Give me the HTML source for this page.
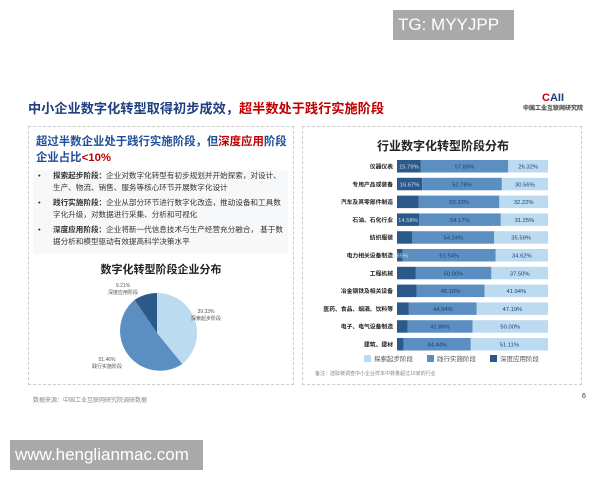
<!DOCTYPE html>
<html><head><meta charset="utf-8"><style>
*{margin:0;padding:0;box-sizing:border-box}
body{width:600px;height:480px;background:#fff;position:relative;overflow:hidden;font-family:"Liberation Sans","Noto Sans CJK SC",sans-serif}
.abs{position:absolute}
</style></head><body>
<div class="abs" style="left:393px;top:10px;width:121px;height:30px;background:#a9a9a9;color:#fff;font-size:17px;line-height:30px;padding-left:5px">TG: MYYJPP</div>
<div class="abs" style="left:28px;top:98px;font-size:13.2px;font-weight:bold;color:#1f3f80;white-space:nowrap">中小企业数字化转型取得初步成效，<span style="color:#c00000">超半数处于践行实施阶段</span></div>
<div class="abs" style="left:518px;top:94px;width:70px;text-align:center;font-size:9px;font-weight:bold;color:#1f3f80;line-height:9px"><span style="font-size:11px"><span style="color:#c00000">C</span>AII</span><br><span style="font-size:6px;color:#333">中国工业互联网研究院</span></div>
<div class="abs" style="left:28px;top:126px;width:266px;height:259px;border:1px dashed #ccc"></div>
<div class="abs" style="left:302px;top:126px;width:280px;height:259px;border:1px dashed #ccc"></div>
<div class="abs" style="left:36px;top:134px;width:258px;font-size:11.4px;font-weight:bold;color:#1f4f9a;line-height:16px">超过半数企业处于践行实施阶段，但<span style="color:#c00000">深度应用</span>阶段<br>企业占比<span style="color:#c00000">&lt;10%</span></div>
<div class="abs" style="left:33px;top:170px;width:255px;height:84px;background:#f7f8fa;font-size:7.6px;color:#333;line-height:12px">
<div style="padding-left:20px;position:relative"><span style="position:absolute;left:5px">•</span><b>探索起步阶段：</b>企业对数字化转型有初步规划并开始探索，对设计、生产、物流、销售、服务等核心环节开展数字化设计</div>
<div style="padding-left:20px;position:relative;margin-top:3px"><span style="position:absolute;left:5px">•</span><b>践行实施阶段：</b>企业从部分环节进行数字化改造，推动设备和工具数字化升级，对数据进行采集、分析和可视化</div>
<div style="padding-left:20px;position:relative;margin-top:3px"><span style="position:absolute;left:5px">•</span><b>深度应用阶段：</b>企业将新一代信息技术与生产经营充分融合， 基于数据分析和模型驱动有效提高科学决策水平</div>
</div>
<div class="abs" style="left:28px;top:261px;width:266px;text-align:center;font-size:11px;font-weight:bold;color:#222">数字化转型阶段企业分布</div>
<svg class="abs" style="left:0;top:0" width="600" height="480" font-family="Liberation Sans,Noto Sans CJK SC,sans-serif">
<g transform="translate(157,333)">
<path d="M0,0 L0,-40 A40,40 0 0 1 25.3,31 Z" fill="#bcdaf0"/>
<path d="M0,0 L25.3,31 A40,40 0 0 1 -22.4,-33.1 Z" fill="#5b8fc2"/>
<path d="M0,0 L-22.4,-33.1 A40,40 0 0 1 0,-40 Z" fill="#2b5a8a"/>
</g>
<text x="123" y="287" font-size="5" fill="#555" text-anchor="middle">9.21%</text>
<text x="123" y="294" font-size="5" fill="#555" text-anchor="middle">深度应用阶段</text>
<text x="206" y="313" font-size="5" fill="#555" text-anchor="middle">39.33%</text>
<text x="206" y="320" font-size="5" fill="#555" text-anchor="middle">探索起步阶段</text>
<text x="107" y="361" font-size="5" fill="#555" text-anchor="middle">51.46%</text>
<text x="107" y="368" font-size="5" fill="#555" text-anchor="middle">践行实施阶段</text>
<text x="443" y="150" font-size="12" font-weight="bold" fill="#222" text-anchor="middle">行业数字化转型阶段分布</text>
<g id="bars" font-size="5.8"></g>
<rect x="364" y="355" width="7" height="7" fill="#bcdaf0"/><text x="374" y="361" font-size="6.5" fill="#555">探索起步阶段</text>
<rect x="427" y="355" width="7" height="7" fill="#5b8fc2"/><text x="437" y="361" font-size="6.5" fill="#555">践行实施阶段</text>
<rect x="490" y="355" width="7" height="7" fill="#2b5a8a"/><text x="500" y="361" font-size="6.5" fill="#555">深度应用阶段</text>
<text x="315" y="375" font-size="5" fill="#888">备注：选取被调查中小企业样本中数量超过10家的行业</text>
</svg>
<div class="abs" style="left:33px;top:395px;font-size:6px;color:#888">数据来源：中国工业互联网研究院调研数据</div>
<div class="abs" style="left:582px;top:393px;font-size:7px;color:#333">6</div>
<div class="abs" style="left:10px;top:440px;width:193px;height:30px;background:#a9a9a9;color:#fff;font-size:17px;line-height:30px;padding-left:5px">www.henglianmac.com</div>
<script>
var d=[["仪器仪表",15.79,57.89,26.32,1],["专用产品或装备",16.67,52.78,30.56,1],["汽车及其零部件制造",14.45,53.33,32.22,0],["石油、石化行业",14.58,54.17,31.25,1],["纺织服装",10.17,54.24,35.59,0],["电力相关设备制造",3.85,61.54,34.62,1],["工程机械",12.5,50,37.5,0],["冶金钢铁及相关设备",12.9,45.16,41.94,0],["医药、食品、烟酒、饮料等",7.87,44.94,47.19,0],["电子、电气设备制造",7.14,42.86,50,0],["建筑、建材",4.45,44.44,51.11,0]];
var g=document.getElementById('bars'),s='',x0=397,W=151;
d.forEach(function(r,i){var y=160+i*17.8,t=r[1]+r[2]+r[3],a=W*r[1]/t,b=W*r[2]/t,c=W*r[3]/t;
s+='<text x="393" y="'+(y+8.5)+'" text-anchor="end" font-weight="bold" fill="#222">'+r[0]+'</text>';
s+='<rect x="'+x0+'" y="'+y+'" width="'+a+'" height="12.5" fill="#2b5a8a"/>';
s+='<rect x="'+(x0+a)+'" y="'+y+'" width="'+b+'" height="12.5" fill="#5b8fc2"/>';
s+='<rect x="'+(x0+a+b)+'" y="'+y+'" width="'+c+'" height="12.5" fill="#bcdaf0"/>';
if(r[4])s+='<text x="'+(x0+a/2)+'" y="'+(y+8.5)+'" text-anchor="middle" fill="#cde">'+r[1].toFixed(2)+'%</text>';
s+='<text x="'+(x0+a+b/2)+'" y="'+(y+8.5)+'" text-anchor="middle" fill="#1d3f6e">'+r[2].toFixed(2)+'%</text>';
s+='<text x="'+(x0+a+b+c/2)+'" y="'+(y+8.5)+'" text-anchor="middle" fill="#1d3f6e">'+r[3].toFixed(2)+'%</text>';});
g.innerHTML=s;
</script>
</body></html>
